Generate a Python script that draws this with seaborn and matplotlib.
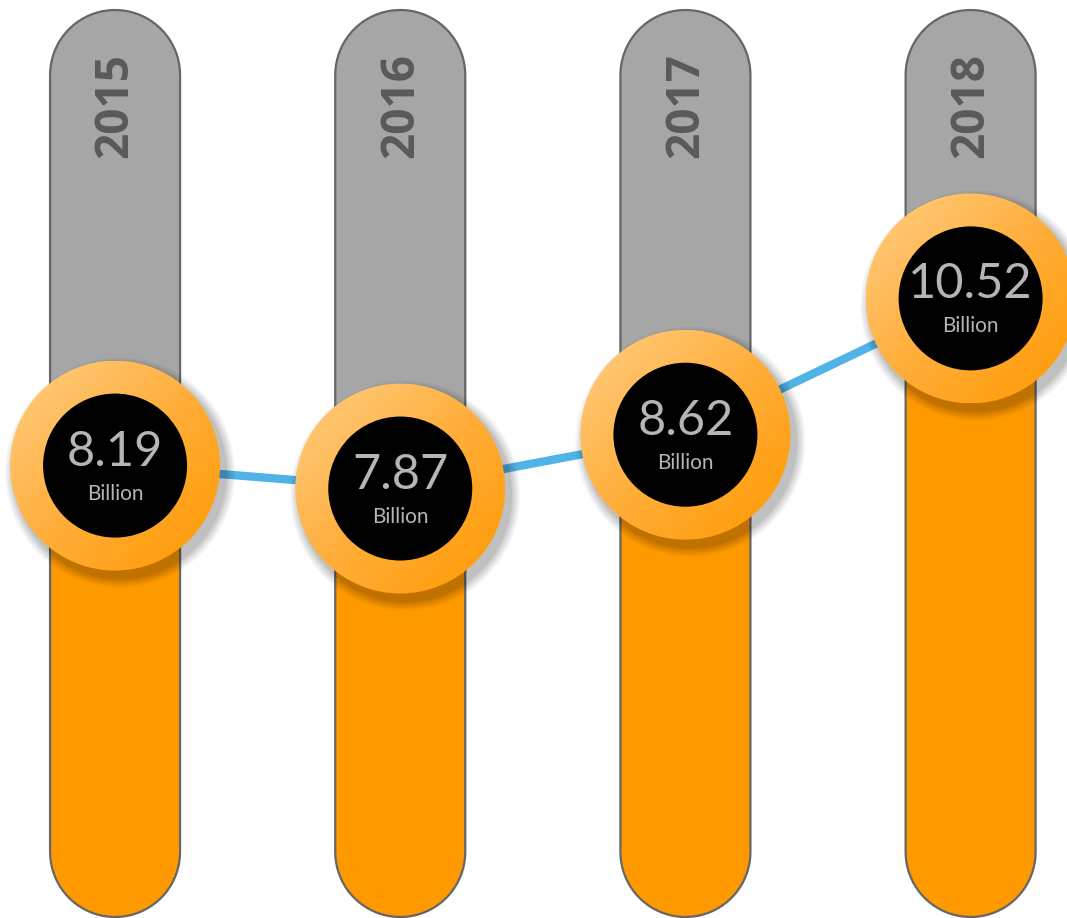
import numpy as np
import pandas as pd
import matplotlib
matplotlib.use("Agg")
import matplotlib.pyplot as plt
import seaborn as sns
from matplotlib.patches import PathPatch, Rectangle, Ellipse
from matplotlib.path import Path
from matplotlib.colors import LinearSegmentedColormap

# ---- data ----
years = ["2015", "2016", "2017", "2018"]
values = [8.19, 7.87, 8.62, 10.52]
unit_label = "Billion"

df = pd.DataFrame({"x": np.arange(len(years)), "value": values, "year": years})

sns.set_theme(style="white")
plt.rcParams["font.family"] = ["Lato", "DejaVu Sans"]

W, H = 1067, 918
fig = plt.figure(figsize=(W / 100, H / 100), dpi=100)
ax = fig.add_axes([0, 0, 1, 1])
ax.set_axis_off()

# layout (pixel-based constants)
x_left, x_right = -0.4035, 3.338
y_bottom, y_top = 1.884, 14.679
ax.set_xlim(x_left, x_right)
ax.set_ylim(y_bottom, y_top)
pxx = W / (x_right - x_left)   # pixels per x unit
pxy = H / (y_top - y_bottom)   # pixels per y unit

col_half = 65 / pxx
col_ry = 65 / pxy
col_top = y_top - 10 / pxy
col_bot = y_bottom + 1 / pxy

def pill_path(cx):
    t1 = np.linspace(np.pi, 0, 40)
    top_arc = np.column_stack([cx + col_half * np.cos(t1), (col_top - col_ry) + col_ry * np.sin(t1)])
    t2 = np.linspace(0, -np.pi, 40)
    bot_arc = np.column_stack([cx + col_half * np.cos(t2), (col_bot + col_ry) + col_ry * np.sin(t2)])
    pts = np.vstack([top_arc, bot_arc, top_arc[:1]])
    codes = [Path.MOVETO] + [Path.LINETO] * (len(pts) - 2) + [Path.CLOSEPOLY]
    return Path(pts, codes)

gray = "#a6a6a6"
orange = "#ff9900"
edge = "#666666"

for i, v in zip(df["x"], df["value"]):
    p = pill_path(i)
    base = PathPatch(p, facecolor=gray, edgecolor="none", zorder=1)
    ax.add_patch(base)
    rect = Rectangle((i - col_half - 0.01, y_bottom), 2 * col_half + 0.02, v - y_bottom,
                     facecolor=orange, edgecolor="none", zorder=1.1)
    ax.add_patch(rect)
    rect.set_clip_path(base)
    ax.add_patch(PathPatch(p, facecolor="none", edgecolor=edge, linewidth=1.6, zorder=1.2))

# connecting line
sns.lineplot(data=df, x="x", y="value", color="#4fb3e8", linewidth=6, ax=ax, zorder=2,
             legend=False)

# circles with gradient and shadow
R_out = 105
cmap = LinearSegmentedColormap.from_list("og", ["#ffcf85", "#ffae3a", "#ff9800"])
grad = np.add.outer(np.linspace(0, 1, 200), np.linspace(0, 1, 200)) / 2.0

for i, v in zip(df["x"], df["value"]):
    rx, ry = R_out / pxx, R_out / pxy
    # shadow
    for k, a in enumerate([0.04, 0.05, 0.05, 0.06, 0.07]):
        grow = 10 - 2 * k
        ax.add_patch(Ellipse((i + 5 / pxx, v - 7 / pxy), 2 * (R_out + grow) / pxx,
                             2 * (R_out + grow) / pxy, facecolor="#000000",
                             edgecolor="none", alpha=a, zorder=3))
    circ = Ellipse((i, v), 2 * rx, 2 * ry, facecolor="none", edgecolor="none", zorder=4)
    ax.add_patch(circ)
    im = ax.imshow(grad, cmap=cmap, extent=(i - rx, i + rx, v - ry, v + ry),
                   origin="upper", aspect="auto", zorder=4, interpolation="bilinear")
    im.set_clip_path(circ)

ax.set_xlim(x_left, x_right)
ax.set_ylim(y_bottom, y_top)

# inner black circles
R_in = 72
sns.scatterplot(data=df, x="x", y="value", s=(2 * R_in * 0.72) ** 2, color="black",
                edgecolor="none", ax=ax, zorder=5, legend=False)

# texts
for i, v, yr in zip(df["x"], df["value"], df["year"]):
    ax.text(i, v + 14 / pxy, f"{v:.2f}", ha="center", va="center", fontsize=35,
            color="#b5b5b5", zorder=6)
    ax.text(i, v - 28 / pxy, unit_label, ha="center", va="center", fontsize=15,
            color="#b5b5b5", zorder=6)
    ax.text(i, y_top - 106 / pxy, yr, ha="center", va="center", rotation=90,
            fontsize=33, fontweight="bold", color="#5a5a5a", zorder=6,
            family=["Open Sans", "DejaVu Sans"])

ax.set_xlim(x_left, x_right)
ax.set_ylim(y_bottom, y_top)
fig.savefig("out.png", dpi=100, facecolor="white")
